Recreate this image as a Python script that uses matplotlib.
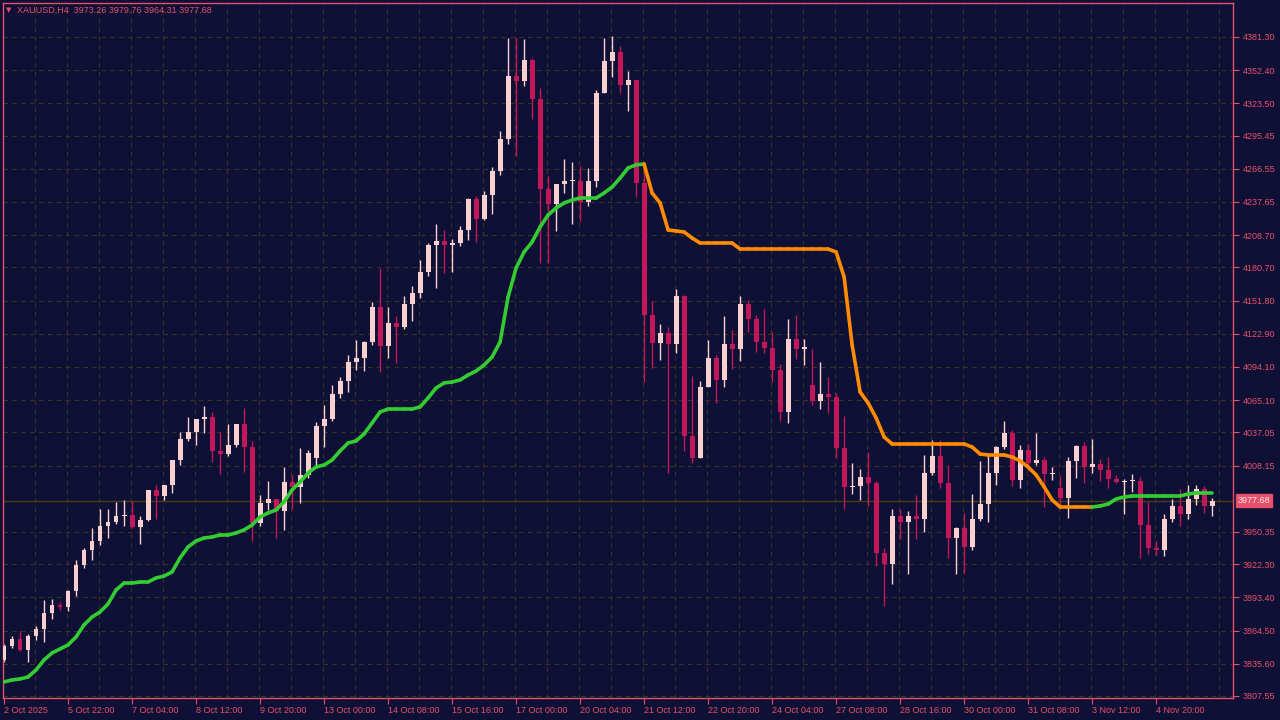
import matplotlib
matplotlib.use("Agg")
import matplotlib.pyplot as plt
import numpy as np
from matplotlib.collections import LineCollection

plt.rcParams['font.family'] = ['Liberation Sans', 'DejaVu Sans']

# XAUUSD H4 candles
closes = [3851.1, 3857.2, 3847.6, 3859.8, 3866.0, 3880.0, 3886.8, 3885.1, 3898.9, 3921.6,
          3934.7, 3942.5, 3955.6, 3959.0, 3964.3, 3965.2, 3954.7, 3960.8, 3986.9, 3981.6,
          3991.2, 4012.9, 4031.5, 4037.4, 4048.8, 4050.5, 4020.9, 4018.3, 4026.1, 4044.4,
          4024.3, 3958.2, 3975.6, 3979.1, 3968.7, 3993.9, 3989.6, 4000.0, 4019.2, 4042.7,
          4048.8, 4070.5, 4081.8, 4098.3, 4101.8, 4115.8, 4146.2, 4112.3, 4132.3, 4128.8,
          4148.8, 4158.4, 4176.7, 4200.2, 4203.7, 4200.2, 4201.9, 4213.2, 4240.3, 4222.8,
          4243.7, 4264.6, 4292.5, 4347.3, 4343.0, 4361.3, 4327.3, 4249.0, 4235.9, 4253.3,
          4255.9, 4255.9, 4237.6, 4255.9, 4332.5, 4360.4, 4368.2, 4339.5, 4343.9, 4254.2,
          4139.3, 4114.9, 4123.6, 4114.0, 4155.8, 4033.9, 4014.8, 4076.6, 4101.8, 4082.7,
          4114.0, 4109.7, 4148.8, 4135.8, 4115.8, 4110.5, 4091.4, 4054.8, 4118.4, 4109.7,
          4111.4, 4064.4, 4070.5, 4067.9, 4023.5, 3989.6, 3990.4, 3998.3, 3993.0, 3932.1,
          3922.5, 3964.2, 3959.1, 3964.2, 3961.6, 4001.6, 4016.4, 3993.0, 3945.1, 3953.8,
          3937.4, 3961.6, 3974.7, 4001.6, 4024.3, 4036.5, 3995.6, 4021.7, 4010.4, 4013.0,
          4000.8, 4001.7, 3979.9, 4012.2, 4025.2, 4007.2, 4009.6, 4004.3, 3996.5, 3993.9,
          3994.7, 3994.7, 3956.4, 3936.4, 3934.7, 3961.6, 3973.0, 3966.0, 3979.1, 3987.8,
          3973.0, 3977.68]
first_open = 3838.9
open_gaps = {39: 4014.8, 101: 4078.3, 132: 3988.7}
highs = [3852.8, 3859.8, 3864.2, 3861.5, 3868.5, 3891.1, 3892.0, 3889.4, 3899.8, 3926.0,
         3936.4, 3953.8, 3970.4, 3970.4, 3976.5, 3978.2, 3977.3, 3964.3, 3986.9, 3991.3,
         3991.3, 4012.2, 4037.4, 4050.5, 4048.7, 4060.0, 4054.8, 4037.4, 4044.4, 4044.4,
         4058.3, 4029.6, 3982.6, 3994.7, 3979.1, 4006.9, 4000.0, 4023.5, 4021.7, 4046.1,
         4060.9, 4078.3, 4085.3, 4104.4, 4117.5, 4116.6, 4150.6, 4180.2, 4146.2, 4138.4,
         4155.8, 4164.5, 4187.1, 4201.9, 4218.5, 4213.3, 4205.4, 4216.7, 4241.1, 4242.9,
         4247.2, 4268.1, 4299.5, 4380.4, 4380.4, 4379.5, 4363.0, 4336.9, 4260.3, 4253.3,
         4275.1, 4272.5, 4269.0, 4267.3, 4335.1, 4380.4, 4382.2, 4373.5, 4351.7, 4343.9,
         4272.5, 4151.4, 4131.4, 4128.8, 4161.9, 4156.7, 4086.2, 4081.8, 4117.5, 4104.4,
         4138.4, 4126.2, 4155.8, 4152.3, 4139.3, 4144.5, 4124.5, 4096.6, 4135.8, 4139.3,
         4118.4, 4109.7, 4098.3, 4085.3, 4071.4, 4051.3, 4010.4, 4005.2, 4020.0, 3994.7,
         3936.4, 3970.4, 3970.4, 3968.6, 3982.6, 4017.4, 4030.4, 4030.4, 4007.8, 3954.7,
         3966.9, 3983.4, 4012.2, 4016.5, 4025.2, 4047.0, 4039.1, 4026.1, 4027.0, 4036.5,
         4015.6, 4006.9, 3999.1, 4015.6, 4026.1, 4028.7, 4031.3, 4013.9, 4015.6, 4000.0,
         3996.5, 4000.8, 3998.2, 3976.5, 3942.5, 3966.0, 3979.1, 3987.8, 3991.3, 3991.3,
         3990.4, 3979.76]
lows = [3837.2, 3849.4, 3846.7, 3837.2, 3856.3, 3854.6, 3874.6, 3882.4, 3881.6, 3894.6,
        3919.0, 3926.0, 3939.0, 3945.1, 3957.3, 3955.6, 3953.8, 3939.9, 3959.9, 3961.7,
        3978.2, 3984.3, 4008.7, 4029.6, 4026.1, 4036.5, 4011.3, 4000.8, 4016.5, 4024.3,
        4002.6, 3942.5, 3955.6, 3969.5, 3945.1, 3952.1, 3970.4, 3975.6, 3997.3, 4006.1,
        4024.3, 4047.0, 4067.0, 4072.2, 4091.4, 4090.5, 4113.1, 4089.6, 4101.8, 4097.5,
        4127.1, 4134.0, 4154.1, 4173.2, 4162.8, 4175.8, 4176.7, 4199.3, 4204.6, 4202.8,
        4222.0, 4227.2, 4261.1, 4288.1, 4277.7, 4338.6, 4309.9, 4184.5, 4184.5, 4212.4,
        4245.5, 4218.5, 4221.1, 4234.2, 4250.7, 4356.9, 4346.5, 4332.5, 4316.9, 4242.0,
        4080.9, 4093.1, 4100.1, 4001.7, 4106.2, 4020.9, 4010.4, 4014.8, 4076.6, 4062.7,
        4076.6, 4092.2, 4099.2, 4124.5, 4107.0, 4106.2, 4080.9, 4047.0, 4045.2, 4101.0,
        4095.7, 4060.9, 4057.4, 4053.9, 4014.8, 3970.4, 3983.4, 3978.2, 3973.0, 3920.7,
        3885.9, 3905.1, 3944.3, 3913.8, 3944.3, 3950.3, 4000.0, 3988.6, 3927.7, 3913.8,
        3914.6, 3934.7, 3959.9, 3959.1, 3991.3, 4022.6, 3990.4, 3988.6, 4003.4, 4008.7,
        3972.1, 3995.6, 3972.1, 3962.5, 3997.3, 3993.0, 4001.7, 3994.7, 3988.6, 3993.0,
        3966.0, 3985.2, 3927.7, 3931.2, 3930.3, 3929.5, 3959.1, 3955.6, 3961.7, 3973.8,
        3966.9, 3964.31]
# trend line indicator
trend = [3819.8, 3821.5, 3822.4, 3824.1, 3830.2, 3838.9, 3845.0, 3848.5, 3852.0, 3858.9,
         3869.4, 3876.3, 3880.7, 3887.7, 3899.8, 3905.9, 3905.9, 3906.8, 3906.8, 3910.3,
         3912.0, 3915.5, 3927.7, 3937.3, 3942.5, 3945.1, 3946.0, 3947.7, 3947.7, 3949.5,
         3952.1, 3956.4, 3963.4, 3966.9, 3969.5, 3976.5, 3986.9, 3993.9, 4001.7, 4006.9,
         4008.7, 4013.0, 4020.9, 4027.8, 4029.6, 4035.7, 4045.2, 4054.8, 4057.4, 4057.4,
         4057.4, 4057.4, 4059.2, 4067.0, 4075.7, 4080.1, 4080.9, 4082.7, 4087.0, 4090.5,
         4095.7, 4102.7, 4115.8, 4154.9, 4180.2, 4194.1, 4202.8, 4215.9, 4226.3, 4232.4,
         4236.8, 4239.4, 4241.1, 4241.1, 4241.1, 4245.5, 4250.7, 4258.5, 4267.3, 4270.0,
         4270.7, 4245.5, 4236.8, 4213.3, 4212.4, 4211.5, 4206.3, 4201.9, 4201.9, 4201.9,
         4201.9, 4201.9, 4196.7, 4196.7, 4196.7, 4196.7, 4196.7, 4196.7, 4196.7, 4196.7,
         4196.7, 4196.7, 4196.7, 4196.7, 4194.1, 4172.3, 4113.1, 4072.2, 4062.6, 4049.6,
         4033.0, 4027.0, 4027.0, 4027.0, 4027.0, 4027.0, 4027.0, 4027.0, 4027.0, 4027.0,
         4027.0, 4024.3, 4018.2, 4017.4, 4017.4, 4017.4, 4015.6, 4012.2, 4006.9, 4000.0,
         3989.6, 3978.2, 3972.1, 3972.1, 3972.1, 3972.1, 3972.1, 3973.0, 3974.7, 3979.1,
         3980.8, 3981.7, 3981.7, 3981.7, 3981.7, 3981.7, 3981.7, 3981.7, 3983.4, 3984.3,
         3984.3, 3984.3]

y_ticks = [4381.30, 4352.40, 4323.50, 4295.45, 4266.55, 4237.65, 4208.70, 4180.70, 4151.80,
           4122.90, 4094.10, 4065.10, 4037.05, 4008.15, 3950.35, 3922.30, 3893.40, 3864.50,
           3835.60, 3807.55]
x_labels = ['2 Oct 2025', '5 Oct 22:00', '7 Oct 04:00', '8 Oct 12:00', '9 Oct 20:00',
            '13 Oct 00:00', '14 Oct 08:00', '15 Oct 16:00', '17 Oct 00:00', '20 Oct 04:00',
            '21 Oct 12:00', '22 Oct 20:00', '24 Oct 04:00', '27 Oct 08:00', '28 Oct 16:00',
            '30 Oct 00:00', '31 Oct 08:00', '3 Nov 12:00', '4 Nov 20:00']
last_price = 3977.68

BG = '#0e1035'
FG = '#e8506a'
BULL = '#f9cfcf'
BEAR = '#c2185b'
GRID = '#3b3420'

opens = [first_open] + closes[:-1]
for k, v in open_gaps.items():
    opens[k] = v

fig = plt.figure(figsize=(12.8, 7.2), dpi=100, facecolor=BG)
ax = fig.add_axes([3 / 1280, 22 / 720, 1230 / 1280, 695 / 720])
ax.set_facecolor(BG)

n = len(closes)
idx = np.arange(n)
ax.set_xlim(-0.125, 153.6)
ax.set_ylim(3805.8, 4410.9)

# grid
for gx in np.arange(3.875, 154, 4):
    ax.axvline(gx, color=GRID, lw=0.8, ls=(0, (4, 4)), zorder=0)
for gy in y_ticks + [last_price]:
    ax.axhline(gy, color=GRID, lw=0.8, ls=(0, (4, 4)), zorder=0)
ax.axhline(last_price, color='#4a3c14', lw=1.0, zorder=1)

# candles
for i in idx:
    o, c = opens[i], closes[i]
    h = max(highs[i], o, c)
    l = min(lows[i], o, c)
    col = BULL if c >= o else BEAR
    ax.vlines(i, l, h, color=col, lw=1.0, zorder=2)
    body = max(abs(c - o), 1.2)
    ax.bar(i, body, bottom=min(o, c), width=0.62, color=col, linewidth=0, zorder=3)

# trend line coloured by direction
pts = np.column_stack([idx, trend])
segs = np.stack([pts[:-1], pts[1:]], axis=1)
colors = []
cur = '#33cc33'
for a, b in zip(trend[:-1], trend[1:]):
    if b > a:
        cur = '#33cc33'
    elif b < a:
        cur = '#ff8c00'
    colors.append(cur)
ax.add_collection(LineCollection(segs, colors=colors, linewidths=2.6, zorder=4,
                                 capstyle='round'))

# axes styling
for s in ax.spines.values():
    s.set_color(FG)
    s.set_linewidth(1.0)
ax.yaxis.tick_right()
ax.set_yticks(y_ticks)
ax.set_yticklabels([f'{v:.2f}' for v in y_ticks])
ax.tick_params(axis='y', colors=FG, labelsize=6.5, length=4, pad=3, direction='out')
ax.set_xticks(np.arange(0, 145, 8))
ax.set_xticklabels(x_labels, ha='left')
ax.tick_params(axis='x', colors=FG, labelsize=6.5, length=4, pad=2, direction='out')

ax.text(1.004, last_price, f'{last_price:.2f}', transform=ax.get_yaxis_transform(),
        va='center', ha='left', fontsize=6.5, color='#ffe6ea',
        bbox=dict(boxstyle='square,pad=0.2', fc=FG, ec=FG))

fig.text(6 / 1280, 1 - 10 / 720, '\u25bc', color=FG, fontsize=5, va='center',
         family='DejaVu Sans')
fig.text(17 / 1280, 1 - 10 / 720, 'XAUUSD,H4  3973.26 3979.76 3964.31 3977.68',
         color=FG, fontsize=6.5, va='center')

fig.savefig('out.png', dpi=100, facecolor=BG)
